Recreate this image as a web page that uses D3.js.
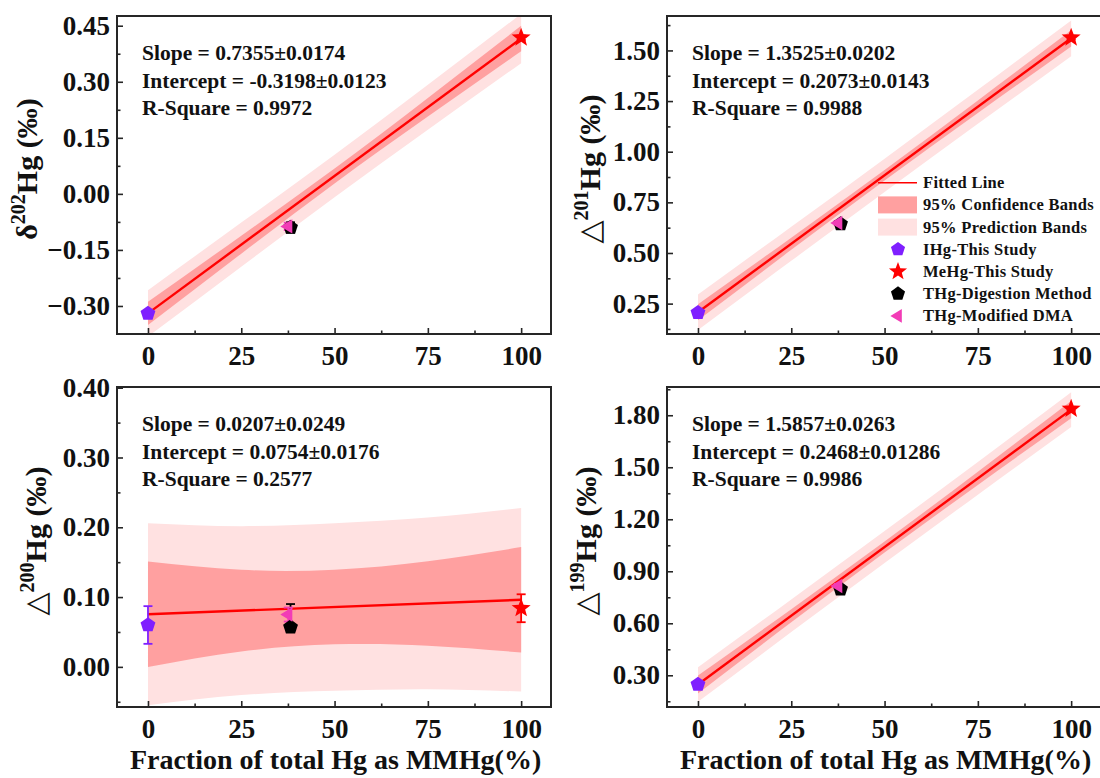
<!DOCTYPE html>
<html>
<head>
<meta charset="utf-8">
<script src="https://cdn.jsdelivr.net/npm/d3@7/dist/d3.min.js"></script>
<style>
  body { margin: 0; background: #fff; }
  svg { display: block; font-family: "Liberation Serif", "Times New Roman", serif; font-weight: bold; }
</style>
</head>
<body>
<div id="chart"></div>
<script>
// ---- data ----
const isotopes = ['δ', '△', '△', '△'];
const isotopeMass = ['202', '201', '200', '199'];

// fitted line, x given as fraction (0–1)
const slopes = [0.7355, 1.3525, 0.0207, 1.5857];
const intercepts = [-0.3198, 0.2073, 0.0754, 0.2468];
const slopeLabels = ['0.7355±0.0174', '1.3525±0.0202', '0.0207±0.0249', '1.5857±0.0263'];
const interceptLabels = ['-0.3198±0.0123', '0.2073±0.0143', '0.0754±0.0176', '0.2468±0.01286'];
const rSquareLabels = ['0.9972', '0.9988', '0.2577', '0.9986'];

// band half widths (‰) at these x positions
const bandX = [0, 25, 50, 75, 100];
const confHalfWidth = [
  [0.031, 0.024, 0.020, 0.025, 0.034],
  [0.040, 0.030, 0.026, 0.031, 0.040],
  [0.0755, 0.0585, 0.0535, 0.0605, 0.0755],
  [0.052, 0.038, 0.032, 0.038, 0.050],
];
const predHalfWidth = [
  [0.062, 0.059, 0.057, 0.060, 0.066],
  [0.088, 0.084, 0.082, 0.084, 0.088],
  [0.1305, 0.121, 0.120, 0.123, 0.1315],
  [0.100, 0.094, 0.092, 0.094, 0.100],
];

// measured points
const seriesNames = ['IHg-This Study', 'MeHg-This Study', 'THg-Digestion Method', 'THg-Modified DMA'];
const seriesX = [0, 100, 38.2, 37.6];
const ihgValues = [-0.320, 0.205, 0.060, 0.247];
const mehgValues = [0.418, 1.563, 0.084, 1.837];
const thgDigValues = [-0.090, 0.643, 0.057, 0.797];
const thgDmaValues = [-0.087, 0.648, 0.075, 0.815];
const ihgErr = [0.005, 0.006, 0.027, 0.006];
const mehgErr = [0.006, 0.008, 0.020, 0.010];
const thgDigErrUp = [0.014, 0.012, 0.033, 0.015];
const thgDigErrDown = [0.014, 0.012, 0.004, 0.015];
const thgDmaErr = [0.010, 0.010, 0.010, 0.012];

// axes
const xDomain = [-8.3, 108];
const xTickValues = [0, 25, 50, 75, 100];
const yDomains = [[-0.375, 0.476], [0.10, 1.67], [-0.0575, 0.401], [0.117, 1.963]];
const yTickValues = [
  [-0.30, -0.15, 0.00, 0.15, 0.30, 0.45],
  [0.25, 0.50, 0.75, 1.00, 1.25, 1.50],
  [0.00, 0.10, 0.20, 0.30, 0.40],
  [0.30, 0.60, 0.90, 1.20, 1.50, 1.80],
];
const xAxisTitle = 'Fraction of total Hg as MMHg(%)';

// ---- layout ----
const width = 1100, height = 778;
const panelBoxes = [
  { left: 117, top: 16, right: 551, bottom: 334 },
  { left: 667, top: 16, right: 1101, bottom: 334 },
  { left: 117, top: 387, right: 551, bottom: 707 },
  { left: 667, top: 387, right: 1101, bottom: 707 },
];
const yTitleGap = [80, 67, 71, 71];
const showXTitle = [false, false, true, true];

const colors = {
  axis: '#262626',
  text: '#111',
  fit: '#ff0000',
  conf: '#ffa0a0',
  pred: '#ffe1e1',
  series: ['#7f1fff', '#ff0000', '#000000', '#f23cb6'],
};

// custom symbols: r = sqrt(size)
const symbolPentagon = {
  draw(ctx, size) {
    const r = Math.sqrt(size);
    for (let i = 0; i < 5; i++) {
      const a = -Math.PI / 2 + (i * 2 * Math.PI) / 5;
      const px = r * Math.cos(a), py = r * Math.sin(a);
      i ? ctx.lineTo(px, py) : ctx.moveTo(px, py);
    }
    ctx.closePath();
  },
};
const symbolTriangleLeft = {
  draw(ctx, size) {
    const r = Math.sqrt(size);
    ctx.moveTo(-r, 0);
    ctx.lineTo(r * 0.5, -r * 0.9);
    ctx.lineTo(r * 0.5, r * 0.9);
    ctx.closePath();
  },
};
const symbolStar5 = {
  draw(ctx, size) {
    const r = Math.sqrt(size), ri = r * 0.42;
    for (let i = 0; i < 10; i++) {
      const a = -Math.PI / 2 + (i * Math.PI) / 5;
      const rr = i % 2 ? ri : r;
      i ? ctx.lineTo(rr * Math.cos(a), rr * Math.sin(a)) : ctx.moveTo(rr * Math.cos(a), rr * Math.sin(a));
    }
    ctx.closePath();
  },
};
const seriesSymbols = [symbolPentagon, symbolStar5, symbolPentagon, symbolTriangleLeft];
const seriesRadius = [7.8, 10, 7.8, 8];

const seriesValues = [ihgValues, mehgValues, thgDigValues, thgDmaValues];
const seriesErrUp = [ihgErr, mehgErr, thgDigErrUp, thgDmaErr];
const seriesErrDown = [ihgErr, mehgErr, thgDigErrDown, thgDmaErr];

const svg = d3.select('#chart').append('svg')
  .attr('width', width).attr('height', height)
  .attr('viewBox', `0 0 ${width} ${height}`);

const defs = svg.append('defs');

panelBoxes.forEach((box, p) => {
  const x = d3.scaleLinear().domain(xDomain).range([box.left, box.right]);
  const y = d3.scaleLinear().domain(yDomains[p]).range([box.bottom, box.top]);
  const fit = (v) => intercepts[p] + slopes[p] * v / 100;

  const clipId = `clip-${p}`;
  defs.append('clipPath').attr('id', clipId)
    .append('rect')
    .attr('x', box.left).attr('y', box.top)
    .attr('width', box.right - box.left).attr('height', box.bottom - box.top);

  const g = svg.append('g');
  const plot = g.append('g').attr('clip-path', `url(#${clipId})`);

  /* bands */
  const bandArea = (hw) => d3.area()
    .x((d) => x(d))
    .y0((d, i) => y(fit(d) - hw[i]))
    .y1((d, i) => y(fit(d) + hw[i]))
    .curve(d3.curveNatural);

  plot.append('path').datum(bandX)
    .attr('fill', colors.pred)
    .attr('d', bandArea(predHalfWidth[p]));
  plot.append('path').datum(bandX)
    .attr('fill', colors.conf)
    .attr('d', bandArea(confHalfWidth[p]));

  /* fitted line */
  plot.append('path').datum([0, 100])
    .attr('fill', 'none')
    .attr('stroke', colors.fit)
    .attr('stroke-width', 2.4)
    .attr('d', d3.line().x((d) => x(d)).y((d) => y(fit(d))));

  /* error bars */
  seriesNames.forEach((name, s) => {
    const cx = x(seriesX[s]);
    const v = seriesValues[s][p];
    const yTop = y(v + seriesErrUp[s][p]);
    const yBot = y(v - seriesErrDown[s][p]);
    const eb = plot.append('g')
      .attr('stroke', colors.series[s])
      .attr('stroke-width', 1.8);
    eb.append('line').attr('x1', cx).attr('x2', cx).attr('y1', yTop).attr('y2', yBot);
    eb.append('line').attr('x1', cx - 4.5).attr('x2', cx + 4.5).attr('y1', yTop).attr('y2', yTop);
    eb.append('line').attr('x1', cx - 4.5).attr('x2', cx + 4.5).attr('y1', yBot).attr('y2', yBot);
  });

  /* markers */
  seriesNames.forEach((name, s) => {
    g.append('path')
      .attr('transform', `translate(${x(seriesX[s])},${y(seriesValues[s][p])})`)
      .attr('fill', colors.series[s])
      .attr('d', d3.symbol().type(seriesSymbols[s]).size(seriesRadius[s] ** 2)());
  });

  /* axes */
  const yStep = yTickValues[p][1] - yTickValues[p][0];
  const yMinor = d3.range(yTickValues[p][0] - yStep / 2, yDomains[p][1], yStep)
    .filter((v) => v > yDomains[p][0] && v < yDomains[p][1]);
  const xMinor = [-12.5, 12.5, 37.5, 62.5, 87.5].filter((v) => v > xDomain[0]);

  const yAxis = g.append('g')
    .attr('transform', `translate(${box.left},0)`)
    .call(d3.axisLeft(y).tickValues(yTickValues[p]).tickSize(-6).tickPadding(7)
      .tickFormat(d3.format('.2f')));
  g.append('g')
    .attr('transform', `translate(${box.left},0)`)
    .call(d3.axisLeft(y).tickValues(yMinor).tickSize(-3.5).tickFormat(''));

  const xAxis = g.append('g')
    .attr('transform', `translate(0,${box.bottom})`)
    .call(d3.axisBottom(x).tickValues(xTickValues).tickSize(-6).tickPadding(12)
      .tickFormat(d3.format('d')));
  g.append('g')
    .attr('transform', `translate(0,${box.bottom})`)
    .call(d3.axisBottom(x).tickValues(xMinor).tickSize(-3.5).tickFormat(''));

  g.selectAll('.domain').remove();
  g.selectAll('.tick line').attr('stroke', colors.axis).attr('stroke-width', 1.6);
  [yAxis, xAxis].forEach((ax) => ax.selectAll('text')
    .attr('fill', colors.text)
    .attr('font-family', '"Liberation Serif", serif')
    .attr('font-weight', 'bold')
    .attr('font-size', 27));

  /* frame */
  g.append('rect')
    .attr('x', box.left).attr('y', box.top)
    .attr('width', box.right - box.left).attr('height', box.bottom - box.top)
    .attr('fill', 'none')
    .attr('stroke', colors.axis)
    .attr('stroke-width', 2);

  /* y title */
  const yTitle = g.append('text')
    .attr('transform', `translate(${box.left - yTitleGap[p]},${(box.top + box.bottom) / 2 - 6}) rotate(-90)`)
    .attr('text-anchor', 'middle')
    .attr('fill', colors.text)
    .attr('font-size', 30);
  yTitle.append('tspan')
    .attr('font-family', isotopes[p] === '△' ? '"DejaVu Sans", sans-serif' : '"Liberation Serif", serif')
    .attr('font-weight', isotopes[p] === '△' ? 'normal' : 'bold')
    .text(isotopes[p]);
  yTitle.append('tspan').attr('font-size', 20).attr('dy', -12).text(isotopeMass[p]);
  yTitle.append('tspan').attr('dy', 12).text('Hg (‰)');

  /* x title */
  if (showXTitle[p]) {
    g.append('text')
      .attr('x', x(50) + 1)
      .attr('y', 769)
      .attr('text-anchor', 'middle')
      .attr('fill', colors.text)
      .attr('font-size', 28)
      .text(xAxisTitle);
  }

  /* fit statistics */
  const stats = [`Slope = ${slopeLabels[p]}`, `Intercept = ${interceptLabels[p]}`, `R-Square = ${rSquareLabels[p]}`];
  g.selectAll('text.stat')
    .data(stats)
    .join('text')
    .attr('class', 'stat')
    .attr('x', box.left + 25)
    .attr('y', (d, i) => box.top + 44 + i * 27.5)
    .attr('fill', colors.text)
    .attr('font-size', 21.5)
    .text((d) => d);
});

/* legend inside the top-right panel */
const legBox = panelBoxes[1];
const legend = svg.append('g')
  .attr('transform', `translate(${legBox.left + 211},${legBox.top + 166.7})`);
const rowH = 22.2;
const legendLabels = ['Fitted Line', '95% Confidence Bands', '95% Prediction Bands'].concat(seriesNames);

legend.append('line')
  .attr('x1', 0).attr('x2', 39).attr('y1', 0).attr('y2', 0)
  .attr('stroke', colors.fit).attr('stroke-width', 1.5);
legend.append('rect')
  .attr('x', 0).attr('y', rowH - 8.5).attr('width', 39).attr('height', 17)
  .attr('fill', colors.conf);
legend.append('rect')
  .attr('x', 0).attr('y', 2 * rowH - 8.5).attr('width', 39).attr('height', 17)
  .attr('fill', colors.pred);
seriesNames.forEach((name, s) => {
  legend.append('path')
    .attr('transform', `translate(20,${(s + 3) * rowH})`)
    .attr('fill', colors.series[s])
    .attr('d', d3.symbol().type(seriesSymbols[s]).size((seriesRadius[s] * 0.95) ** 2)());
});
legend.selectAll('text.leg')
  .data(legendLabels)
  .join('text')
  .attr('class', 'leg')
  .attr('x', 45)
  .attr('y', (d, i) => i * rowH)
  .attr('dy', '0.33em')
  .attr('fill', colors.text)
  .attr('font-size', 16.5)
  .attr('letter-spacing', 0.3)
  .text((d) => d);
</script>
</body>
</html>
